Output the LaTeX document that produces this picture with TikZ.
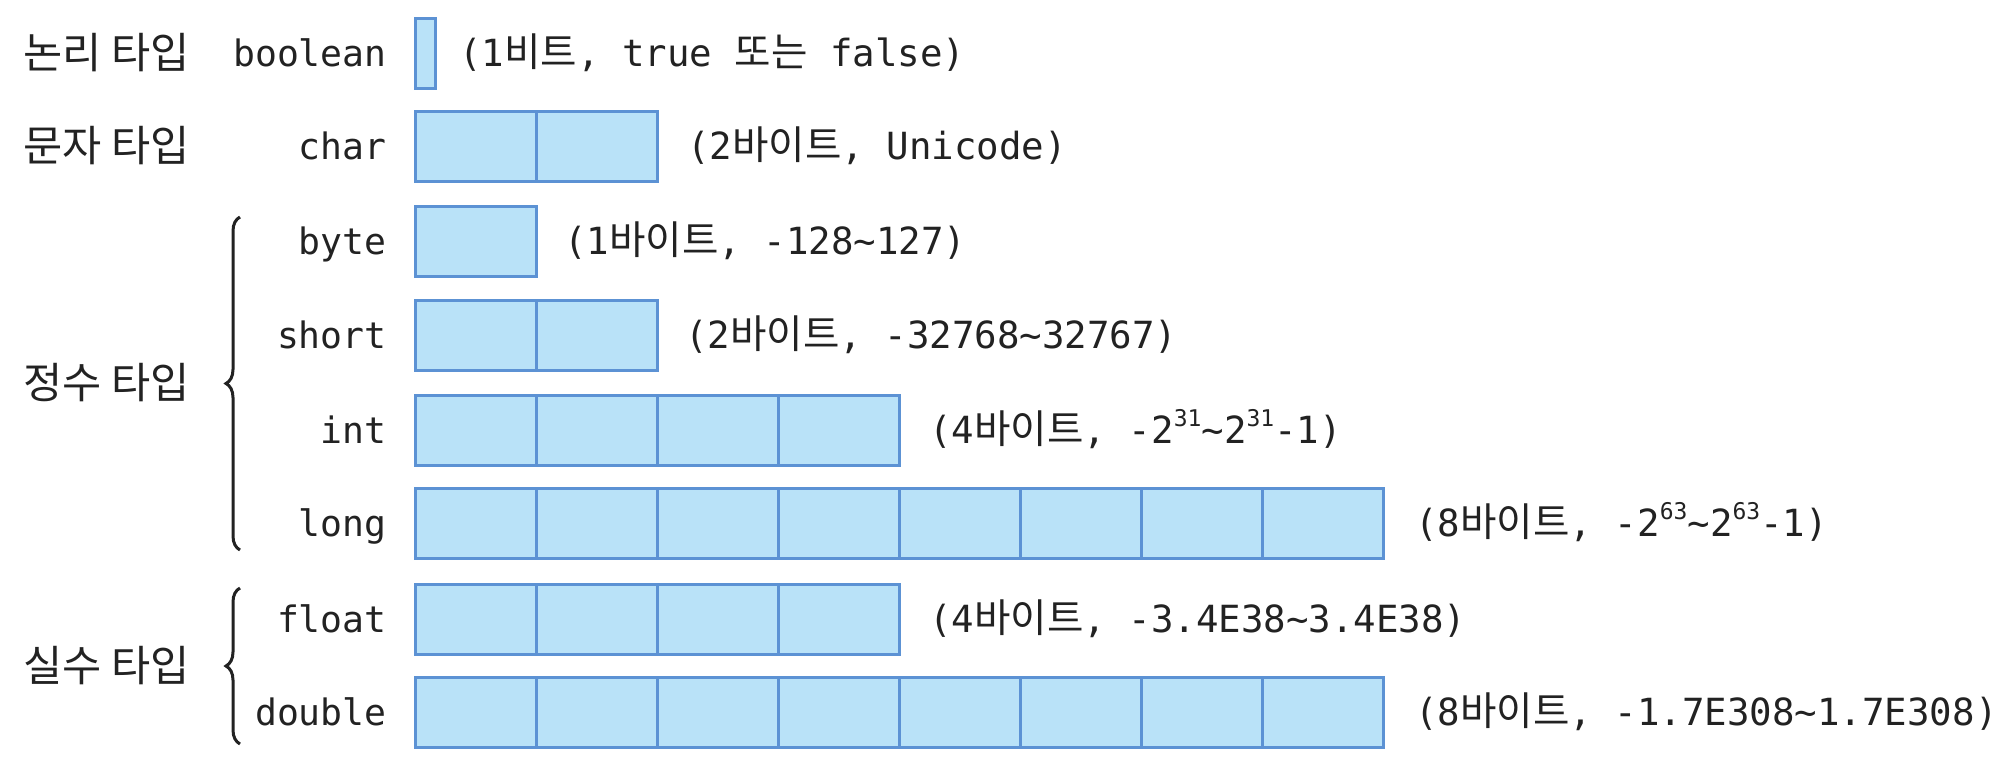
\documentclass[tikz,border=0pt]{standalone}
\usepackage{fontspec}
\usetikzlibrary{decorations.pathreplacing}
\newfontfamily\mn{DejaVu Sans Mono}
\newfontfamily\kr{Noto Sans CJK KR}
\definecolor{cellfill}{RGB}{185,226,248}
\definecolor{celldraw}{RGB}{92,146,212}
\definecolor{txt}{RGB}{34,34,34}
\newcommand{\K}[1]{{\kr\fontsize{19.8}{19.8}\selectfont #1}}
\newcommand{\Sp}[1]{\raisebox{0.45em}{\fontsize{11.5}{11.5}\selectfont #1}}
\begin{document}
\begin{tikzpicture}[x=0.5pt,y=-0.5pt,
  cell/.style={draw=celldraw, fill=cellfill, line width=1.5pt, minimum width=60.5pt, minimum height=35pt, inner sep=0pt, outer sep=0pt, anchor=north west},
  bitcell/.style={cell, minimum width=10pt},
  tlabel/.style={anchor=east, inner sep=0pt, text=txt, text height=14pt, text depth=1pt, font=\mn\fontsize{18.2}{18.2}\selectfont},
  desc/.style={anchor=west, inner sep=0pt, text=txt, text height=14pt, text depth=1pt, font=\mn\fontsize{18.7}{18.7}\selectfont},
  group/.style={anchor=west, inner sep=0pt, text=txt, text height=16.5pt, text depth=1pt, font=\kr\fontsize{21.3}{21.3}\selectfont},
  bracepath/.style={decorate, decoration={brace, amplitude=7pt}, line width=1.5pt, draw=txt}]
\path[use as bounding box] (0,0) rectangle (2004,778);

% rows of cells
\node[bitcell] (bool1) at (415,18) {};
\foreach \i in {1,2} \node[cell] (char\i) at ({415+121*(\i-1)},111) {};
\node[cell] (byte1) at (415,206) {};
\foreach \i in {1,2} \node[cell] (short\i) at ({415+121*(\i-1)},300) {};
\foreach \i in {1,...,4} \node[cell] (int\i) at ({415+121*(\i-1)},395) {};
\foreach \i in {1,...,8} \node[cell] (long\i) at ({415+121*(\i-1)},488) {};
\foreach \i in {1,...,4} \node[cell] (float\i) at ({415+121*(\i-1)},584) {};
\foreach \i in {1,...,8} \node[cell] (double\i) at ({415+121*(\i-1)},677) {};

% type names
\node[tlabel] (lbool) at ([xshift=-14pt]bool1.west) {boolean};
\node[tlabel] (lchar) at ([xshift=-14pt]char1.west) {char};
\node[tlabel] (lbyte) at ([xshift=-14pt]byte1.west) {byte};
\node[tlabel] (lshort) at ([xshift=-14pt]short1.west) {short};
\node[tlabel] (lint) at ([xshift=-14pt]int1.west) {int};
\node[tlabel] (llong) at ([xshift=-14pt]long1.west) {long};
\node[tlabel] (lfloat) at ([xshift=-14pt]float1.west) {float};
\node[tlabel] (ldouble) at ([xshift=-14pt]double1.west) {double};

% descriptions
\node[desc] (dbool) at ([xshift=12pt]bool1.east) {(1\K{비트}, true \K{또는} false)};
\node[desc] (dchar) at ([xshift=15pt]char2.east) {(2\K{바이트}, Unicode)};
\node[desc] (dbyte) at ([xshift=14pt]byte1.east) {(1\K{바이트}, -128\textasciitilde 127)};
\node[desc] (dshort) at ([xshift=14pt]short2.east) {(2\K{바이트}, -32768\textasciitilde 32767)};
\node[desc] (dint) at ([xshift=15pt]int4.east) {(4\K{바이트}, -2\Sp{31}\textasciitilde 2\Sp{31}-1)};
\node[desc] (dlong) at ([xshift=16pt]long8.east) {(8\K{바이트}, -2\Sp{63}\textasciitilde 2\Sp{63}-1)};
\node[desc] (dfloat) at ([xshift=15pt]float4.east) {(4\K{바이트}, -3.4E38\textasciitilde 3.4E38)};
\node[desc] (ddouble) at ([xshift=16pt]double8.east) {(8\K{바이트}, -1.7E308\textasciitilde 1.7E308)};

% group labels
\node[group] (gbool) at (23,53) {논리 타입};
\node[group] (gchar) at (23,146) {문자 타입};
\node[group] (gint) at (23,383) {정수 타입};
\node[group] (greal) at (23,666) {실수 타입};

% braces
\coordinate (ib0) at (240,550);
\coordinate (ib1) at (240,217);
\coordinate (rb0) at (240,744);
\coordinate (rb1) at (240,588);
\draw[bracepath] (ib0) -- (ib1);
\draw[bracepath] (rb0) -- (rb1);
\end{tikzpicture}
\end{document}
